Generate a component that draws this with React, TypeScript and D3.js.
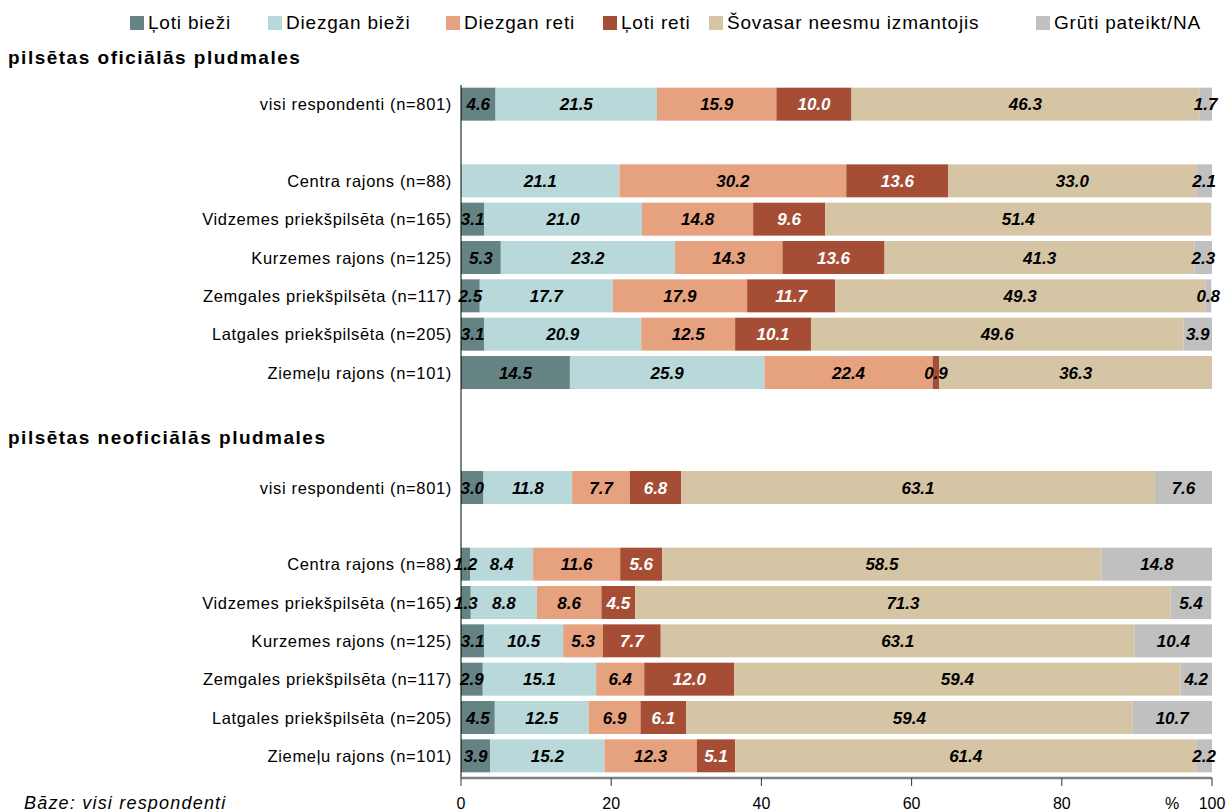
import React from "react";
import * as d3 from "d3";

const seriesNames = ["Ļoti bieži", "Diezgan bieži", "Diezgan reti", "Ļoti reti", "Šovasar neesmu izmantojis", "Grūti pateikt/NA"];
const seriesColors = ["#668384", "#B8D8DA", "#E6A27F", "#A54E35", "#D6C5A4", "#C0C0C0"];
const labelColors = ["#000", "#000", "#000", "#fff", "#000", "#000"];

const sectionTitles = ["pilsētas oficiālās pludmales", "pilsētas neoficiālās pludmales"];

const rowLabels = [
  "visi respondenti (n=801)",
  "Centra rajons (n=88)",
  "Vidzemes priekšpilsēta (n=165)",
  "Kurzemes rajons (n=125)",
  "Zemgales priekšpilsēta (n=117)",
  "Latgales priekšpilsēta (n=205)",
  "Ziemeļu rajons (n=101)",
  "visi respondenti (n=801)",
  "Centra rajons (n=88)",
  "Vidzemes priekšpilsēta (n=165)",
  "Kurzemes rajons (n=125)",
  "Zemgales priekšpilsēta (n=117)",
  "Latgales priekšpilsēta (n=205)",
  "Ziemeļu rajons (n=101)",
];
// band slot of each row (blank slots separate the groups)
const rowSlots = [0, 2, 3, 4, 5, 6, 7, 10, 12, 13, 14, 15, 16, 17];

const lotiBiezi = [4.6, 0, 3.1, 5.3, 2.5, 3.1, 14.5, 3.0, 1.2, 1.3, 3.1, 2.9, 4.5, 3.9];
const diezganBiezi = [21.5, 21.1, 21.0, 23.2, 17.7, 20.9, 25.9, 11.8, 8.4, 8.8, 10.5, 15.1, 12.5, 15.2];
const diezganReti = [15.9, 30.2, 14.8, 14.3, 17.9, 12.5, 22.4, 7.7, 11.6, 8.6, 5.3, 6.4, 6.9, 12.3];
const lotiReti = [10.0, 13.6, 9.6, 13.6, 11.7, 10.1, 0.9, 6.8, 5.6, 4.5, 7.7, 12.0, 6.1, 5.1];
const sovasar = [46.3, 33.0, 51.4, 41.3, 49.3, 49.6, 36.3, 63.1, 58.5, 71.3, 63.1, 59.4, 59.4, 61.4];
const grutiNA = [1.7, 2.1, 0, 2.3, 0.8, 3.9, 0, 7.6, 14.8, 5.4, 10.4, 4.2, 10.7, 2.2];

const xTicks = [0, 20, 40, 60, 80, 100];

const W = 1227;
const H = 812;
const FONT = "'Liberation Sans', Arial, sans-serif";

export default function App() {
  const series = [lotiBiezi, diezganBiezi, diezganReti, lotiReti, sovasar, grutiNA];
  const x = d3.scaleLinear().domain([0, 100]).range([461, 1212]).clamp(true);
  const y = d3
    .scaleBand<number>()
    .domain(d3.range(18))
    .range([85, 775])
    .paddingInner(0.14)
    .paddingOuter(0.07);

  const rows = rowLabels.map((label, i) => {
    let acc = 0;
    const segs = series.map((s, k) => {
      const v = s[i];
      const x0 = acc;
      acc += v;
      return { k, v, x0, x1: acc };
    });
    return { label, slot: rowSlots[i], segs };
  });

  const legendSquares = [130, 268, 446, 603, 709, 1036];

  return (
    <svg
      width={W}
      height={H}
      style={{ position: "absolute", left: 0, top: 0, background: "#fff" }}
      fontFamily={FONT}
    >
      {/* legend */}
      {seriesNames.map((n, k) => (
        <g key={n}>
          <rect x={legendSquares[k]} y={16} width={14} height={14} fill={seriesColors[k]} />
          <text x={legendSquares[k] + 18} y={29} fontSize={19} letterSpacing={0.8} fill="#000">
            {n}
          </text>
        </g>
      ))}

      {/* section titles */}
      <text x={8} y={64} fontSize={19} fontWeight="bold" letterSpacing={1.5}>
        {sectionTitles[0]}
      </text>
      <text x={8} y={444} fontSize={19} fontWeight="bold" letterSpacing={1.5}>
        {sectionTitles[1]}
      </text>

      {/* bars */}
      {rows.map((r, i) => {
        const y0 = y(r.slot)!;
        const bh = y.bandwidth();
        const cy = y0 + bh / 2;
        return (
          <g key={i}>
            <text x={452} y={cy + 6} fontSize={16.5} letterSpacing={0.65} textAnchor="end" fill="#000">
              {r.label}
            </text>
            {r.segs.map((s) =>
              s.v > 0 ? (
                <rect
                  key={s.k}
                  x={x(s.x0)}
                  y={y0}
                  width={Math.max(0, x(s.x1) - x(s.x0))}
                  height={bh}
                  fill={seriesColors[s.k]}
                />
              ) : null
            )}
            {r.segs.map((s) =>
              s.v > 0 ? (
                <text
                  key={"t" + s.k}
                  x={(x(s.x0) + x(Math.min(s.x1, 100))) / 2}
                  y={cy + 6}
                  fontSize={17}
                  fontWeight="bold"
                  fontStyle="italic"
                  textAnchor="middle"
                  fill={s.v >= 2 ? labelColors[s.k] : "#000"}
                >
                  {s.v.toFixed(1)}
                </text>
              ) : null
            )}
          </g>
        );
      })}

      {/* vertical axis */}
      <line x1={461} x2={461} y1={85} y2={778} stroke="#000" strokeWidth={1} />

      {/* bottom axis */}
      <line x1={461} x2={1212} y1={778} y2={778} stroke="#808080" strokeWidth={2.5} />
      {xTicks.map((t) => (
        <g key={t}>
          <line x1={x(t)} x2={x(t)} y1={778} y2={786} stroke="#333" strokeWidth={1} />
          <text x={x(t)} y={809} fontSize={16} textAnchor="middle" fill="#000">
            {t}
          </text>
        </g>
      ))}
      <text x={1172} y={809} fontSize={16} textAnchor="middle" fill="#000">
        %
      </text>

      <text x={24} y={809} fontSize={18} letterSpacing={1.2} fontStyle="italic" fill="#000">
        Bāze: visi respondenti
      </text>
    </svg>
  );
}
